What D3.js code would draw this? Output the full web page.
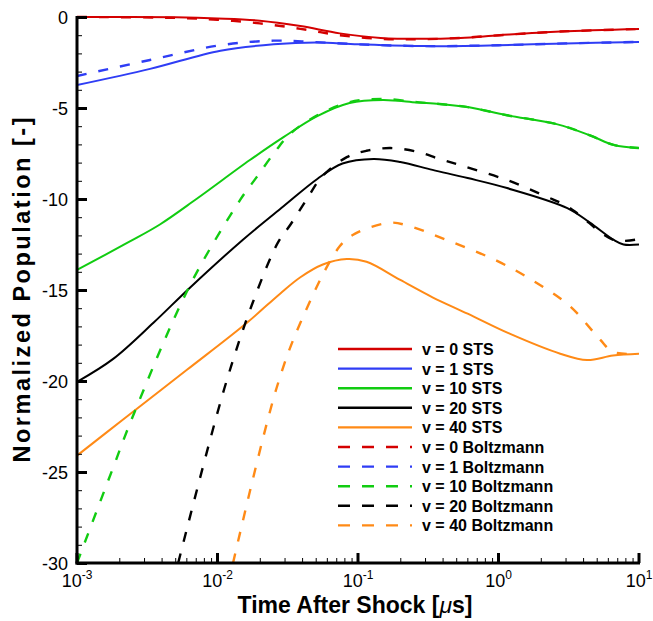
<!DOCTYPE html>
<html>
<head>
<meta charset="utf-8">
<script src="https://cdn.jsdelivr.net/npm/d3@7"></script>
<style>
  body { margin: 0; background: #fff; }
  svg text { font-family: "Liberation Sans", Arial, sans-serif; }
</style>
</head>
<body>
<div id="chart"></div>
<script>
// time [us], normalized population
let sts0 = [[0.001,0],[0.005,-0.02],[0.01,-0.08],[0.02,-0.2],[0.0389,-0.5],[0.0741,-0.9],[0.145,-1.15],[0.275,-1.2],[0.537,-1.15],[1.02,-1.0],[2.75,-0.8],[10,-0.66]];
let sts1 = [[0.001,-3.74],[0.00331,-2.85],[0.0105,-1.85],[0.0251,-1.5],[0.0501,-1.4],[0.1,-1.5],[0.3,-1.6],[1,-1.55],[3,-1.45],[10,-1.37]];
let sts10 = [[0.001,-13.9],[0.00229,-12.4],[0.00389,-11.4],[0.00708,-10.0],[0.017,-7.86],[0.0295,-6.6],[0.0513,-5.45],[0.0871,-4.73],[0.151,-4.56],[0.263,-4.7],[0.38,-4.78],[0.603,-4.95],[1.15,-5.4],[2.63,-5.9],[4.47,-6.5],[6.61,-7.03],[10,-7.2]];
let sts20 = [[0.001,-20.05],[0.0018,-18.8],[0.0035,-16.8],[0.00631,-14.9],[0.0151,-12.25],[0.0295,-10.4],[0.0513,-8.9],[0.0776,-8.05],[0.129,-7.8],[0.2,-7.97],[0.339,-8.4],[0.603,-8.85],[1.15,-9.4],[3.09,-10.5],[4.47,-11.3],[6.61,-12.25],[7.76,-12.5],[10,-12.5]];
let sts40 = [[0.001,-24.1],[0.00214,-22.1],[0.00603,-19.4],[0.0162,-16.8],[0.0279,-15.2],[0.0389,-14.3],[0.0562,-13.6],[0.0832,-13.3],[0.115,-13.45],[0.2,-14.45],[0.339,-15.4],[0.603,-16.3],[1.2,-17.4],[2.75,-18.5],[4.27,-18.85],[6.53,-18.6],[10,-18.5]];

let bz0 = [[0.001,0],[0.005,-0.05],[0.01,-0.15],[0.02,-0.35],[0.0389,-0.65],[0.0741,-1.0],[0.145,-1.2],[0.275,-1.22],[0.537,-1.15],[1.02,-1.0],[2.75,-0.8],[10,-0.66]];
let bz1 = [[0.001,-3.24],[0.00331,-2.36],[0.0105,-1.55],[0.0251,-1.3],[0.0501,-1.38],[0.1,-1.5],[0.3,-1.6],[1,-1.55],[3,-1.45],[10,-1.37]];
let bz10 = [[0.001,-30],[0.00182,-24.7],[0.00245,-22.1],[0.00631,-14.8],[0.0145,-10.05],[0.019,-8.8],[0.0257,-7.4],[0.0331,-6.4],[0.0513,-5.4],[0.0871,-4.68],[0.151,-4.5],[0.263,-4.68],[0.38,-4.78],[0.603,-4.95],[1.15,-5.4],[2.63,-5.9],[4.47,-6.5],[6.61,-7.03],[10,-7.2]];
let bz20 = [[0.00525,-30],[0.0112,-20.4],[0.0178,-15.7],[0.0269,-12.4],[0.0331,-11.4],[0.0437,-9.95],[0.055,-8.8],[0.0832,-7.7],[0.115,-7.35],[0.17,-7.2],[0.263,-7.4],[0.38,-7.8],[0.537,-8.15],[1.15,-8.96],[2.24,-9.9],[3.09,-10.4],[3.8,-10.9],[6.61,-12.25],[10,-12.2]];
let bz40 = [[0.0129,-30],[0.0263,-20.4],[0.0389,-16.8],[0.0741,-12.6],[0.0955,-11.9],[0.17,-11.3],[0.234,-11.5],[0.427,-12.25],[0.977,-13.4],[1.86,-14.6],[3.24,-15.9],[5.25,-17.7],[6.53,-18.4],[10,-18.5]];

let levels = ['0', '1', '10', '20', '40'];
let colors = ['#d40000', '#2f3df5', '#11cc11', '#000000', '#ff8a16'];
let stsData = [sts0, sts1, sts10, sts20, sts40];
let bzData = [bz0, bz1, bz10, bz20, bz40];

let xTicks = [-3, -2, -1, 0, 1];
let yTicks = [0, -5, -10, -15, -20, -25, -30];

let width = 653, height = 621;
let margin = {left: 77, right: 14, top: 17, bottom: 58};

let svg = d3.select('#chart').append('svg')
  .attr('width', width).attr('height', height);

let x = d3.scaleLog().domain([1e-3, 10]).range([margin.left, width - margin.right]);
let y = d3.scaleLinear().domain([-30, 0]).range([height - margin.bottom, margin.top]);

let line = d3.line()
  .x(d => x(d[0]))
  .y(d => y(d[1]))
  .curve(d3.curveCatmullRom.alpha(0.5));

svg.append('defs').append('clipPath').attr('id', 'clip')
  .append('rect')
  .attr('x', margin.left).attr('y', margin.top - 3)
  .attr('width', width - margin.left - margin.right)
  .attr('height', height - margin.top - margin.bottom + 3);

let plot = svg.append('g').attr('clip-path', 'url(#clip)');

stsData.forEach(function(s, i) {
  plot.append('path').datum(s)
    .attr('d', line)
    .attr('fill', 'none')
    .attr('stroke', colors[i])
    .attr('stroke-width', 2);
});
bzData.forEach(function(s, i) {
  plot.append('path').datum(s)
    .attr('d', line)
    .attr('fill', 'none')
    .attr('stroke', colors[i])
    .attr('stroke-width', 2.4)
    .attr('stroke-dasharray', '10,12');
});

// y axis (ticks inside)
let yAxis = svg.append('g').attr('transform', 'translate(' + margin.left + ',0)')
  .call(d3.axisRight(y).tickValues(d3.range(-30, 1, 1)).tickSize(5).tickFormat(''));
yAxis.selectAll('.tick line').attr('stroke-width', 1);
yAxis.selectAll('.tick').filter(d => d % 5 === 0).select('line')
  .attr('x2', 10).attr('stroke-width', 3);
yAxis.select('.domain').remove();

yTicks.forEach(function(v) {
  svg.append('text')
    .attr('x', margin.left - 9).attr('y', y(v) + 6.5)
    .attr('text-anchor', 'end')
    .attr('font-size', 18)
    .text(v);
});

// x axis minor + major ticks
let minorX = [];
for (let e = -3; e < 1; e++) {
  for (let m = 2; m < 10; m++) minorX.push(m * Math.pow(10, e));
}
let xAxis = svg.append('g').attr('transform', 'translate(0,' + y(-30) + ')')
  .call(d3.axisTop(x).tickValues(minorX).tickSize(5).tickFormat(''));
xAxis.selectAll('.tick line').attr('stroke-width', 1);
xAxis.select('.domain').remove();

xTicks.forEach(function(e) {
  let px = x(Math.pow(10, e));
  svg.append('line')
    .attr('x1', px).attr('x2', px)
    .attr('y1', y(-30)).attr('y2', y(-30) - 10)
    .attr('stroke', '#000').attr('stroke-width', 3);
  let t = svg.append('text')
    .attr('x', px).attr('y', y(-30) + 24)
    .attr('text-anchor', 'middle')
    .attr('font-size', 18);
  t.append('tspan').text('10');
  t.append('tspan').attr('dy', -8).attr('font-size', 12).text(e);
});

// axis lines
svg.append('line')
  .attr('x1', margin.left).attr('x2', margin.left)
  .attr('y1', margin.top - 1).attr('y2', y(-30) + 1.5)
  .attr('stroke', '#000').attr('stroke-width', 3);
svg.append('line')
  .attr('x1', margin.left - 1.5).attr('x2', width - margin.right + 1)
  .attr('y1', y(-30)).attr('y2', y(-30))
  .attr('stroke', '#000').attr('stroke-width', 3);

// axis titles
svg.append('text')
  .attr('transform', 'translate(30,' + 290 + ') rotate(-90)')
  .attr('text-anchor', 'middle')
  .attr('font-size', 23.5).attr('font-weight', 'bold')
  .attr('textLength', 345).attr('lengthAdjust', 'spacing')
  .text('Normalized Population [-]');

let xt = svg.append('text')
  .attr('x', 355).attr('y', 613)
  .attr('text-anchor', 'middle')
  .attr('font-size', 23).attr('font-weight', 'bold');
xt.append('tspan').text('Time After Shock [');
xt.append('tspan').attr('font-style', 'italic').attr('font-weight', 'normal').text('\u03bc');
xt.append('tspan').text('s]');

// legend
let legendItems = [];
levels.forEach((v, i) => legendItems.push({label: 'v = ' + v + ' STS', color: colors[i], dash: null}));
levels.forEach((v, i) => legendItems.push({label: 'v = ' + v + ' Boltzmann', color: colors[i], dash: '12,12'}));

let legend = svg.append('g');
legendItems.forEach(function(item, i) {
  let ly = 349 + i * 19.6;
  legend.append('line')
    .attr('x1', 338).attr('x2', 412)
    .attr('y1', ly).attr('y2', ly)
    .attr('stroke', item.color)
    .attr('stroke-width', 2.4)
    .attr('stroke-dasharray', item.dash);
  legend.append('text')
    .attr('x', 422).attr('y', ly + 6)
    .attr('font-size', 16).attr('font-weight', 'bold')
    .text(item.label);
});
</script>
</body>
</html>
